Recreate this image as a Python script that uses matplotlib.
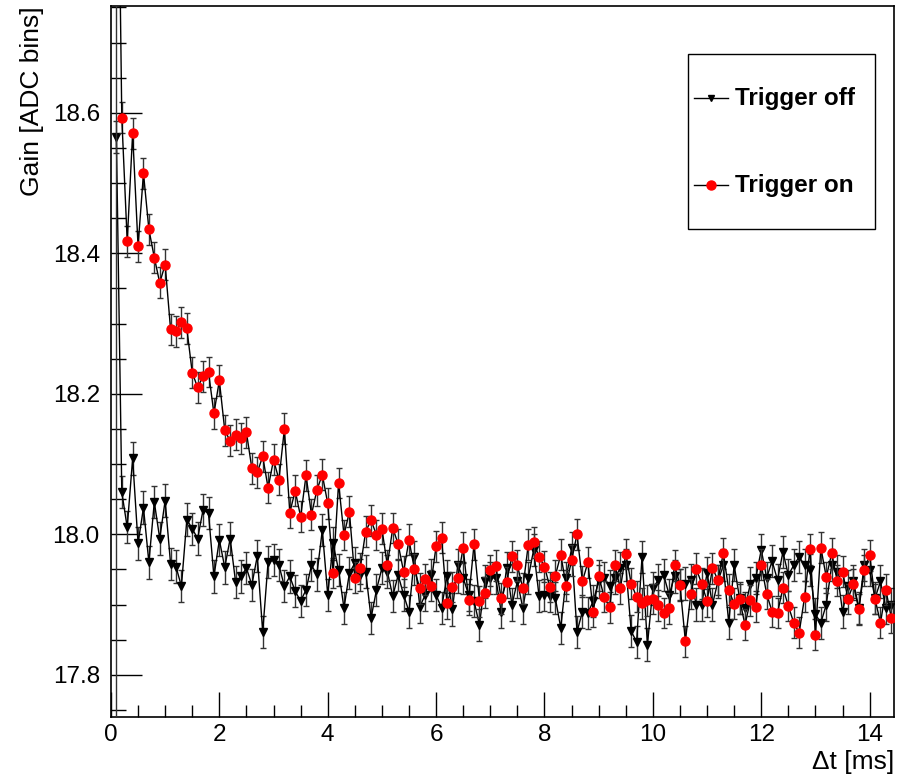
import numpy as np
import matplotlib.pyplot as plt
from matplotlib.lines import Line2D
from matplotlib.patches import Rectangle
from matplotlib.ticker import MultipleLocator

plt.rcParams['font.family'] = ['Liberation Sans', 'DejaVu Sans']

# bins of 0.1 ms
step = 0.1
off_start = 0.1
on_start = 0.1

# Trigger off (black, triangles)
gain_off = [
    18.566, 18.060, 18.010, 18.108, 17.987, 18.038, 17.960, 18.046, 17.994, 18.048,
    17.958, 17.954, 17.926, 18.021, 18.008, 17.994, 18.035, 18.030, 17.940, 17.992,
    17.953, 17.994, 17.932, 17.940, 17.952, 17.928, 17.969, 17.861, 17.961, 17.963,
    17.956, 17.926, 17.940, 17.919, 17.905, 17.921, 17.956, 17.943, 18.006, 17.914,
    17.987, 17.949, 17.895, 17.945, 17.959, 17.942, 17.947, 17.881, 17.921, 17.952,
    17.947, 17.912, 17.942, 17.914, 17.890, 17.968, 17.897, 17.914, 17.942, 17.914,
    17.895, 17.940, 17.893, 17.956, 17.938, 17.914, 17.905, 17.871, 17.933, 17.938,
    17.938, 17.890, 17.952, 17.900, 17.933, 17.895, 17.938, 17.978, 17.912, 17.914,
    17.912, 17.909, 17.867, 17.938, 17.980, 17.861, 17.890, 17.888, 17.905, 17.933,
    17.938, 17.926, 17.938, 17.952, 17.956, 17.862, 17.847, 17.968, 17.843, 17.923,
    17.935, 17.942, 17.914, 17.940, 17.928, 17.930, 17.935, 17.900, 17.900, 17.945,
    17.900, 17.933, 17.956, 17.874, 17.956, 17.909, 17.895, 17.930, 17.938, 17.978,
    17.938, 17.962, 17.935, 17.975, 17.942, 17.956, 17.968, 17.956, 17.949, 17.886,
    17.874, 17.900, 17.956, 17.947, 17.890, 17.926, 17.933, 17.895, 17.956, 17.949,
    17.909, 17.933, 17.895, 17.900,
]
err_off = [0.023]*len(gain_off)

# Trigger on (red, circles); first bin lies above the frame with a huge error
gain_on = [
    19.200,
    18.593, 18.417, 18.571, 18.410, 18.514, 18.434, 18.394, 18.358, 18.384,
    18.292, 18.289, 18.302, 18.293, 18.230, 18.209, 18.225, 18.231, 18.172, 18.219,
    18.148, 18.133, 18.142, 18.137, 18.145, 18.094, 18.088, 18.111, 18.066, 18.106,
    18.078, 18.150, 18.031, 18.062, 18.025, 18.084, 18.028, 18.063, 18.085, 18.044,
    17.945, 18.073, 17.999, 18.032, 17.938, 17.952, 18.004, 18.020, 17.999, 18.008,
    17.956, 18.009, 17.986, 17.947, 17.992, 17.950, 17.923, 17.936, 17.927, 17.983,
    17.995, 17.902, 17.925, 17.938, 17.981, 17.907, 17.986, 17.905, 17.917, 17.949,
    17.955, 17.909, 17.932, 17.969, 17.956, 17.923, 17.985, 17.989, 17.968, 17.954,
    17.925, 17.941, 17.971, 17.927, 17.963, 18.000, 17.933, 17.960, 17.890, 17.941,
    17.911, 17.896, 17.956, 17.923, 17.972, 17.930, 17.911, 17.902, 17.906, 17.908,
    17.899, 17.888, 17.895, 17.956, 17.928, 17.848, 17.915, 17.951, 17.930, 17.905,
    17.952, 17.935, 17.973, 17.921, 17.901, 17.908, 17.871, 17.906, 17.897, 17.957,
    17.915, 17.890, 17.888, 17.924, 17.898, 17.874, 17.860, 17.911, 17.979, 17.857,
    17.981, 17.939, 17.973, 17.934, 17.947, 17.908, 17.929, 17.893, 17.949, 17.970,
    17.908, 17.874, 17.921, 17.881,
]
err_on = [1.6] + [0.022]*(len(gain_on) - 1)

x_off = off_start + step*np.arange(len(gain_off))
x_on = on_start + step*np.arange(len(gain_on))

fig = plt.figure(figsize=(9.08, 7.79), dpi=100)
ax = fig.add_axes([0.1222, 0.0796, 0.8624, 0.9127])

ax.errorbar(x_off, gain_off, yerr=err_off, color='black', lw=1.0,
            marker='v', ms=6, mfc='black', mec='black', elinewidth=1.0,
            ecolor='#333333', capsize=2.5, capthick=1.0, zorder=2)
ax.errorbar(x_on, gain_on, yerr=err_on, color='black', lw=1.0,
            marker='o', ms=6.5, mfc='red', mec='red', elinewidth=1.0,
            ecolor='#333333', capsize=2.5, capthick=1.0, zorder=3)

ax.set_xlim(0, 14.45)
ax.set_ylim(17.74, 18.752)

ax.xaxis.set_major_locator(MultipleLocator(2))
ax.xaxis.set_minor_locator(MultipleLocator(0.5))
ax.yaxis.set_major_locator(MultipleLocator(0.2))
ax.yaxis.set_minor_locator(MultipleLocator(0.05))
ax.tick_params(which='both', direction='in', top=False, right=False,
               labelsize=17.5, width=1.0)
ax.tick_params(axis='y', which='major', length=22, pad=8)
ax.tick_params(axis='y', which='minor', length=11)
ax.tick_params(axis='x', which='major', length=18, pad=5)
ax.tick_params(axis='x', which='minor', length=9)
ax.yaxis.set_major_formatter(plt.FuncFormatter(lambda v, p: f'{v:.1f}'))
ax.xaxis.set_major_formatter(plt.FuncFormatter(lambda v, p: f'{v:.0f}'))
for s in ax.spines.values():
    s.set_linewidth(1.2)

ax.set_ylabel('Gain [ADC bins]', fontsize=19, loc='top', labelpad=6)
ax.set_xlabel('\u0394t [ms]', fontsize=19, loc='right', labelpad=3)

# legend box, drawn by hand in axes coordinates
ax.add_patch(Rectangle((0.7369, 0.6864), 0.2388, 0.2461, transform=ax.transAxes,
                       fill=True, fc='white', ec='black', lw=1.0, zorder=5))
entries = [
    ('Trigger off', 'v', 'black', 5, 0.8706),
    ('Trigger on', 'o', 'red', 6.5, 0.7482),
]
for label, mk, col, ms, ypos in entries:
    ax.add_line(Line2D([0.7446, 0.7880], [ypos, ypos], transform=ax.transAxes,
                       color='black', lw=1.0, zorder=6))
    ax.add_line(Line2D([0.7663], [ypos], transform=ax.transAxes, marker=mk,
                       ms=ms, mfc=col, mec=col, ls='none', zorder=7))
    ax.text(0.7969, ypos, label, transform=ax.transAxes, fontsize=17.5,
            fontweight='bold', va='center', ha='left', zorder=7)

fig.savefig('out.png', dpi=100)
